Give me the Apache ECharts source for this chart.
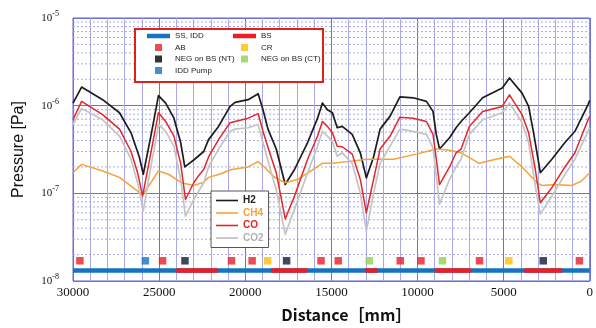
<!DOCTYPE html>
<html>
<head>
<meta charset="utf-8">
<script src="https://cdn.jsdelivr.net/npm/echarts@6/dist/echarts.min.js"></script>
<style>html,body{margin:0;background:#fff}#chart{width:596px;height:328px}</style>
</head>
<body>
<div id="chart"></div>
<script>
// pressure profiles [distance mm, Pa]
const h2 = [[30000,1.07e-6],[29500,1.63e-6],[28280,1.17e-6],[27300,8.3e-7],[26630,4.9e-7],[26150,2.6e-7],[25920,1.65e-7],[25480,4.5e-7],[25190,9.0e-7],[25040,1.3e-6],[24620,1.07e-6],[24140,7.2e-7],[23750,3.8e-7],[23510,2.0e-7],[22990,2.4e-7],[22410,3.0e-7],[22130,4.1e-7],[21550,5.8e-7],[20880,9.8e-7],[20590,1.09e-6],[19830,1.17e-6],[19250,1.37e-6],[18970,9.0e-7],[18680,5.4e-7],[18200,3.2e-7],[17680,1.26e-7],[17140,1.87e-7],[16380,3.8e-7],[15800,7.2e-7],[15520,1.07e-6],[15230,9.0e-7],[14940,8.3e-7],[14660,5.6e-7],[14370,5.8e-7],[13790,4.7e-7],[13320,2.9e-7],[12970,1.5e-7],[12550,2.6e-7],[12170,5.4e-7],[11590,7.6e-7],[11020,1.26e-6],[10250,1.23e-6],[9480,1.12e-6],[9100,8.6e-7],[8910,4.7e-7],[8720,3.2e-7],[8140,4.3e-7],[7760,5.6e-7],[7470,6.6e-7],[6990,8.3e-7],[6220,1.23e-6],[5080,1.59e-6],[4660,2.07e-6],[3930,1.39e-6],[3550,9.8e-7],[3260,4.9e-7],[2870,1.72e-7],[2200,2.45e-7],[1440,3.8e-7],[860,5.1e-7],[100,1.03e-6],[0,1.15e-6]];
const ch4 = [[30000,1.72e-7],[29500,2.14e-7],[28280,1.8e-7],[27300,1.52e-7],[26630,1.21e-7],[25960,9.6e-8],[25480,1.32e-7],[25040,1.8e-7],[24430,1.64e-7],[23660,1.31e-7],[22990,1.23e-7],[22410,1.34e-7],[22130,1.52e-7],[21550,1.64e-7],[20790,1.87e-7],[19830,2.0e-7],[19250,2.3e-7],[18870,1.97e-7],[18290,1.52e-7],[17680,1.32e-7],[16950,1.44e-7],[16190,1.8e-7],[15520,2.2e-7],[14940,2.2e-7],[14080,2.3e-7],[12930,2.45e-7],[11400,2.45e-7],[10060,2.8e-7],[8910,3.2e-7],[8140,3.1e-7],[7470,2.9e-7],[6990,2.55e-7],[6420,2.2e-7],[5460,2.45e-7],[4660,2.65e-7],[3930,2.0e-7],[3060,1.32e-7],[2780,1.23e-7],[2010,1.26e-7],[1050,1.23e-7],[480,1.38e-7],[100,1.64e-7],[0,1.7e-7]];
const co = [[30000,6.9e-7],[29500,1.12e-6],[28280,7.9e-7],[27300,5.4e-7],[26630,3.0e-7],[26250,1.72e-7],[25960,9.3e-8],[25480,2.9e-7],[25190,5.8e-7],[25040,8.3e-7],[24620,6.6e-7],[24140,4.5e-7],[23750,2.2e-7],[23470,8.5e-8],[22990,1.32e-7],[22700,1.6e-7],[22410,1.87e-7],[22130,2.6e-7],[21550,4.1e-7],[20880,6.4e-7],[20590,6.6e-7],[19830,7.2e-7],[19250,8.1e-7],[18970,5.1e-7],[18580,2.9e-7],[18200,1.72e-7],[17680,5.1e-8],[17140,9.3e-8],[16380,2.45e-7],[15800,4.5e-7],[15520,6.6e-7],[15230,5.8e-7],[14940,4.9e-7],[14660,3.45e-7],[14370,3.4e-7],[13790,2.8e-7],[13320,1.44e-7],[12970,6.0e-8],[12550,1.44e-7],[12170,3.2e-7],[11590,4.5e-7],[11020,7.4e-7],[10250,7.2e-7],[9480,6.6e-7],[9100,4.7e-7],[8910,2.45e-7],[8720,1.26e-7],[8140,2.0e-7],[7760,2.9e-7],[7470,3.2e-7],[6990,5.8e-7],[6220,8.6e-7],[5080,9.8e-7],[4660,1.33e-6],[3930,7.9e-7],[3550,4.9e-7],[3160,1.87e-7],[2870,7.8e-8],[2200,1.16e-7],[1440,2.0e-7],[860,2.9e-7],[100,6.9e-7],[0,7.5e-7]];
const co2 = [[30000,6.1e-7],[29500,9.3e-7],[28280,6.9e-7],[27300,4.5e-7],[26630,2.45e-7],[26250,1.32e-7],[25920,6.3e-8],[25480,2.0e-7],[25190,4.1e-7],[25040,6.1e-7],[24620,5.1e-7],[24140,3.45e-7],[23750,1.44e-7],[23470,5.5e-8],[22990,8.5e-8],[22410,1.32e-7],[22130,2.0e-7],[21550,3.2e-7],[20880,5.1e-7],[20590,5.4e-7],[19830,5.6e-7],[19250,6.1e-7],[18970,3.8e-7],[18580,2.0e-7],[18200,1.1e-7],[17680,3.4e-8],[17140,6.6e-8],[16380,1.72e-7],[15800,3.45e-7],[15520,5.1e-7],[15230,4.5e-7],[14940,3.9e-7],[14660,2.65e-7],[14370,2.9e-7],[13790,2.2e-7],[13320,1.0e-7],[12970,3.7e-8],[12550,1.0e-7],[12170,2.2e-7],[11590,3.45e-7],[11020,5.4e-7],[10250,5.1e-7],[9480,4.7e-7],[9100,3.3e-7],[8910,1.57e-7],[8720,7.5e-8],[8140,1.44e-7],[7760,2.0e-7],[7470,2.45e-7],[6990,4.7e-7],[6220,6.9e-7],[5080,8.3e-7],[4660,1.07e-6],[3930,6.4e-7],[3550,3.8e-7],[3160,1.2e-7],[2870,5.8e-8],[2200,9.3e-8],[1440,1.64e-7],[860,2.45e-7],[100,5.1e-7],[0,5.6e-7]];

// component layout along the beam line (mm)
const ssIddRange = [30000, 0];
const bsSegments = [[24000,21600],[18500,16400],[13050,12300],[9000,6900],[3800,1600]];
const abPos = [29600,24800,20800,19600,15600,14600,11000,9800,6400,600];
const crPos = [18700,4700];
const negNtPos = [23500,17600,2700];
const negCtPos = [12800,8550];
const iddPumpPos = [25800];
const barLevel = 1.32e-8;
const markLevel = 1.7e-8;

const yDecades = [1e-8, 1e-7, 1e-6];
const yMinorSteps = [2,3,4,5,6,7,8,9];

const blue = '#1573c2';
const red = '#ee1c24';
const gridMinor = '#a9a9ea';

// minor log grid lines, drawn across the whole x range
const minorY = [];
yDecades.forEach(d => yMinorSteps.forEach(m => {
    minorY.push([ssIddRange[0], m * d], [ssIddRange[1], m * d], ['-', '-']);
}));

const bsData = [];
bsSegments.forEach(s => { bsData.push([s[0], barLevel], [s[1], barLevel], ['-', '-']); });

const sq = 'path://M0,0h10v10h-10z';
const bar = 'path://M0,0h23v4.5h-23z';
const thin = 'path://M0,0h22v1.6h-22z';

function gas(name, data, color, width) {
    return { name, type: 'line', data, symbol: 'none', z: 3,
        lineStyle: { color, width, join: 'round' }, itemStyle: { color } };
}
function marks(name, pos, color) {
    return { name, type: 'scatter', symbol: 'rect', symbolSize: 7.5, z: 4,
        data: pos.map(d => [d, markLevel]), itemStyle: { color } };
}

const chart = echarts.init(document.getElementById('chart'));
chart.setOption({
    animation: false,
    grid: { left: 73, right: 1, top: 18, bottom: 46, show: true, borderColor: '#6464d2', borderWidth: 1 },
    xAxis: {
        type: 'value', min: 0, max: 30000, interval: 5000, inverse: true,
        axisLine: { show: false }, axisTick: { show: false },
        axisLabel: { color: '#111', fontFamily: 'Liberation Serif', fontSize: 13, margin: 5, formatter: v => String(v) },
        splitLine: { lineStyle: { color: '#6f6fd8', width: 1 } },
        minorTick: { show: false, splitNumber: 5 },
        minorSplitLine: { show: true, lineStyle: { color: gridMinor, width: 1 } },
        name: 'Distance［mm］', nameLocation: 'middle', nameGap: 26,
        nameTextStyle: { color: '#111', fontSize: 16, fontWeight: 'bold', fontFamily: 'Noto Sans CJK JP', padding: [0, 0, 0, 30] },
    },
    yAxis: {
        type: 'log', logBase: 10, min: 1e-8, max: 1e-5,
        axisLine: { show: false }, axisTick: { show: false },
        axisLabel: {
            margin: 14,
            formatter: v => '{b|10}{s|' + Math.round(Math.log10(v)) + '}',
            rich: {
                b: { fontFamily: 'Liberation Serif', fontSize: 11, color: '#111' },
                s: { fontFamily: 'Liberation Serif', fontSize: 8, color: '#111', padding: [0, 0, 8, 0] },
            },
        },
        splitLine: { lineStyle: { color: '#6f6fd8', width: 1 } },
        name: 'Pressure [Pa]', nameLocation: 'middle', nameGap: 46,
        nameTextStyle: { color: '#111', fontSize: 16, fontFamily: 'Liberation Sans' },
    },
    legend: [
        {
            orient: 'vertical', left: 211, top: 191, selectedMode: false,
            backgroundColor: '#fff', borderColor: '#555', borderWidth: 1,
            padding: [4, 5, 4, 5], itemWidth: 22, itemHeight: 8, itemGap: 1.5,
            textStyle: { fontSize: 10, fontWeight: 'bold', fontFamily: 'Liberation Sans', lineHeight: 11 },
            data: [
                { name: 'H2', icon: thin, itemStyle: { color: '#1c1c1c' }, textStyle: { color: '#222' } },
                { name: 'CH4', icon: thin, itemStyle: { color: '#f5a23a' }, textStyle: { color: '#f5a23a' } },
                { name: 'CO', icon: thin, itemStyle: { color: '#e3262b' }, textStyle: { color: '#e3262b' } },
                { name: 'CO2', icon: thin, itemStyle: { color: '#bdbdbd' }, textStyle: { color: '#b0b0b0' } },
            ],
        },
        {
            orient: 'vertical', left: 147, top: 31, selectedMode: false, padding: 0,
            itemWidth: 23, itemHeight: 7, itemGap: 1.5,
            textStyle: { fontSize: 8, color: '#222', fontFamily: 'Liberation Sans', lineHeight: 10 },
            data: [
                { name: 'SS, IDD', icon: bar, itemStyle: { color: blue } },
                { name: 'AB', icon: sq, itemStyle: { color: red } },
                { name: 'NEG on BS (NT)', icon: sq, itemStyle: { color: '#000' } },
                { name: 'IDD Pump', icon: sq, itemStyle: { color: blue } },
            ],
        },
        {
            orient: 'vertical', left: 233, top: 31, selectedMode: false, padding: 0,
            itemWidth: 23, itemHeight: 7, itemGap: 1.5,
            textStyle: { fontSize: 8, color: '#222', fontFamily: 'Liberation Sans', lineHeight: 10 },
            data: [
                { name: 'BS', icon: bar, itemStyle: { color: red } },
                { name: 'CR', icon: sq, itemStyle: { color: '#ffc000' } },
                { name: 'NEG on BS (CT)', icon: sq, itemStyle: { color: '#92d050' } },
            ],
        },
    ],
    graphic: [{
        type: 'rect', z: 3, shape: { x: 135, y: 29, width: 188, height: 53 },
        style: { fill: '#fff', stroke: '#e0201c', lineWidth: 2 },
    }],
    series: [
        {
            name: 'grid', type: 'line', symbol: 'none', silent: true, z: 1,
            data: minorY, lineStyle: { color: gridMinor, width: 1, type: [2, 2] },
        },
        gas('H2', h2, '#1c1c1c', 1.7),
        gas('CH4', ch4, '#f5a23a', 1.5),
        gas('CO', co, '#e3262b', 1.5),
        gas('CO2', co2, '#c4c4c4', 1.7),
        {
            name: 'SS, IDD', type: 'line', symbol: 'none', z: 2,
            data: ssIddRange.map(d => [d, barLevel]),
            lineStyle: { color: blue, width: 4.5 }, itemStyle: { color: blue },
        },
        {
            name: 'BS', type: 'line', symbol: 'none', z: 2, connectNulls: false,
            data: bsData, lineStyle: { color: red, width: 4.5 }, itemStyle: { color: red },
        },
        marks('AB', abPos, red),
        marks('CR', crPos, '#ffc000'),
        marks('NEG on BS (NT)', negNtPos, '#0f1a3c'),
        marks('NEG on BS (CT)', negCtPos, '#92d050'),
        marks('IDD Pump', iddPumpPos, blue),
    ],
});
</script>
</body>
</html>
